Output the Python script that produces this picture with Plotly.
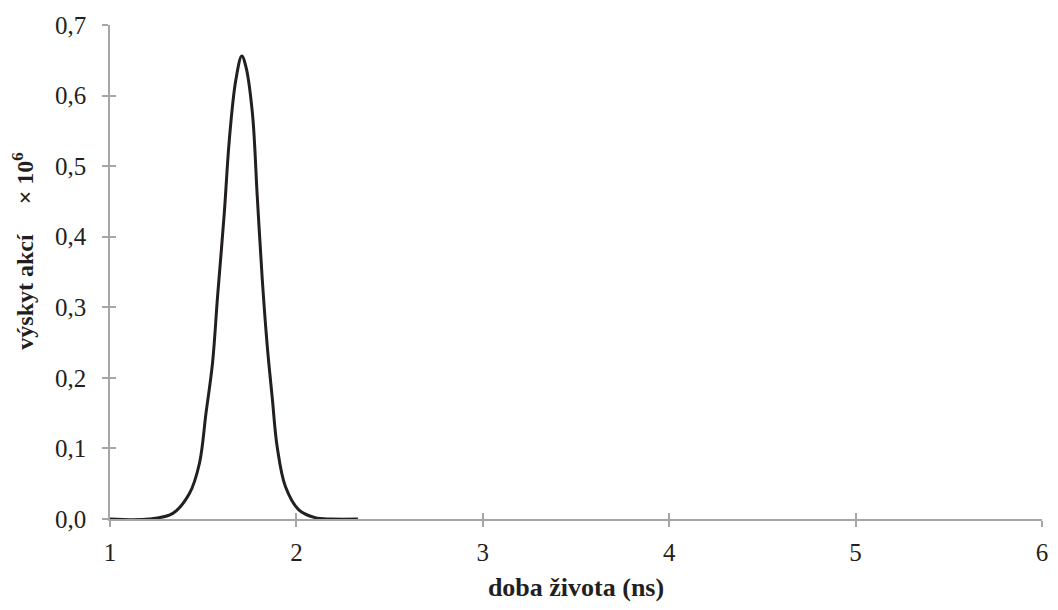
import plotly.graph_objects as go

# doba života (ns) a výskyt akcí (× 10^6)
lifetime = [1.00, 1.21, 1.337, 1.426, 1.48, 1.515, 1.55, 1.577, 1.613, 1.64, 1.675, 1.707,
            1.729, 1.764, 1.79, 1.817, 1.844, 1.87, 1.897, 1.941, 2.013, 2.10, 2.19, 2.33]
counts = [0.0, 0.0, 0.008, 0.036, 0.079, 0.15, 0.221, 0.315, 0.433, 0.537, 0.622, 0.656,
          0.641, 0.575, 0.457, 0.339, 0.244, 0.173, 0.102, 0.046, 0.013, 0.002, 0.0, 0.0]

x_ticks = [1, 2, 3, 4, 5, 6]
y_ticks = [0.0, 0.1, 0.2, 0.3, 0.4, 0.5, 0.6, 0.7]

axis_col = "#a6a6a6"
font = dict(family="Liberation Serif, Times New Roman, serif", size=25, color="#231f20")
nb = "&nbsp;"

fig = go.Figure()
fig.add_trace(go.Scatter(
    x=lifetime, y=counts, mode="lines",
    line=dict(color="#231f20", width=3, shape="spline", smoothing=1.0),
    showlegend=False, hoverinfo="skip",
))
# neviditelná stopa pro druhé osy (tiky dovnitř)
fig.add_trace(go.Scatter(x=[1], y=[0], xaxis="x2", yaxis="y2", mode="markers",
                         marker=dict(opacity=0), showlegend=False, hoverinfo="skip"))

fig.update_layout(
    width=1042, height=594,
    margin=dict(l=102, r=8, t=17, b=83),
    paper_bgcolor="white", plot_bgcolor="white",
    font=font,
    separators=", ",
    xaxis=dict(
        range=[1, 6], tickvals=x_ticks, tickformat="d", automargin=False,
        showgrid=False, zeroline=False,
        showline=True, linecolor=axis_col, linewidth=1.5,
        ticks="outside", ticklen=6, tickcolor=axis_col, tickwidth=1.5,
        ticklabelstandoff=4, ticklabeloverflow="allow",
        title=dict(text="<b>doba života (ns)</b>", font=dict(size=26), standoff=20),
    ),
    yaxis=dict(
        range=[0, 0.7], tickvals=y_ticks, tickformat=".1f", automargin=False,
        showgrid=False, zeroline=False,
        showline=True, linecolor=axis_col, linewidth=1.5,
        ticks="outside", ticklen=6, tickcolor=axis_col, tickwidth=1.5,
        ticklabelstandoff=11,
        title=dict(text="<b>" + nb * 7 + "výskyt akcí" + nb * 5 + "× 10<sup>6</sup></b>",
                   font=dict(size=24), standoff=16),
    ),
    xaxis2=dict(range=[1, 6], tickvals=x_ticks, overlaying="x", anchor="y2", automargin=False,
                showticklabels=False, showgrid=False, zeroline=False,
                ticks="inside", ticklen=6, tickcolor=axis_col, tickwidth=1.5),
    yaxis2=dict(range=[0, 0.7], tickvals=y_ticks, overlaying="y", anchor="x2", automargin=False,
                showticklabels=False, showgrid=False, zeroline=False,
                ticks="inside", ticklen=6, tickcolor=axis_col, tickwidth=1.5),
)

fig.write_html("out.html")
